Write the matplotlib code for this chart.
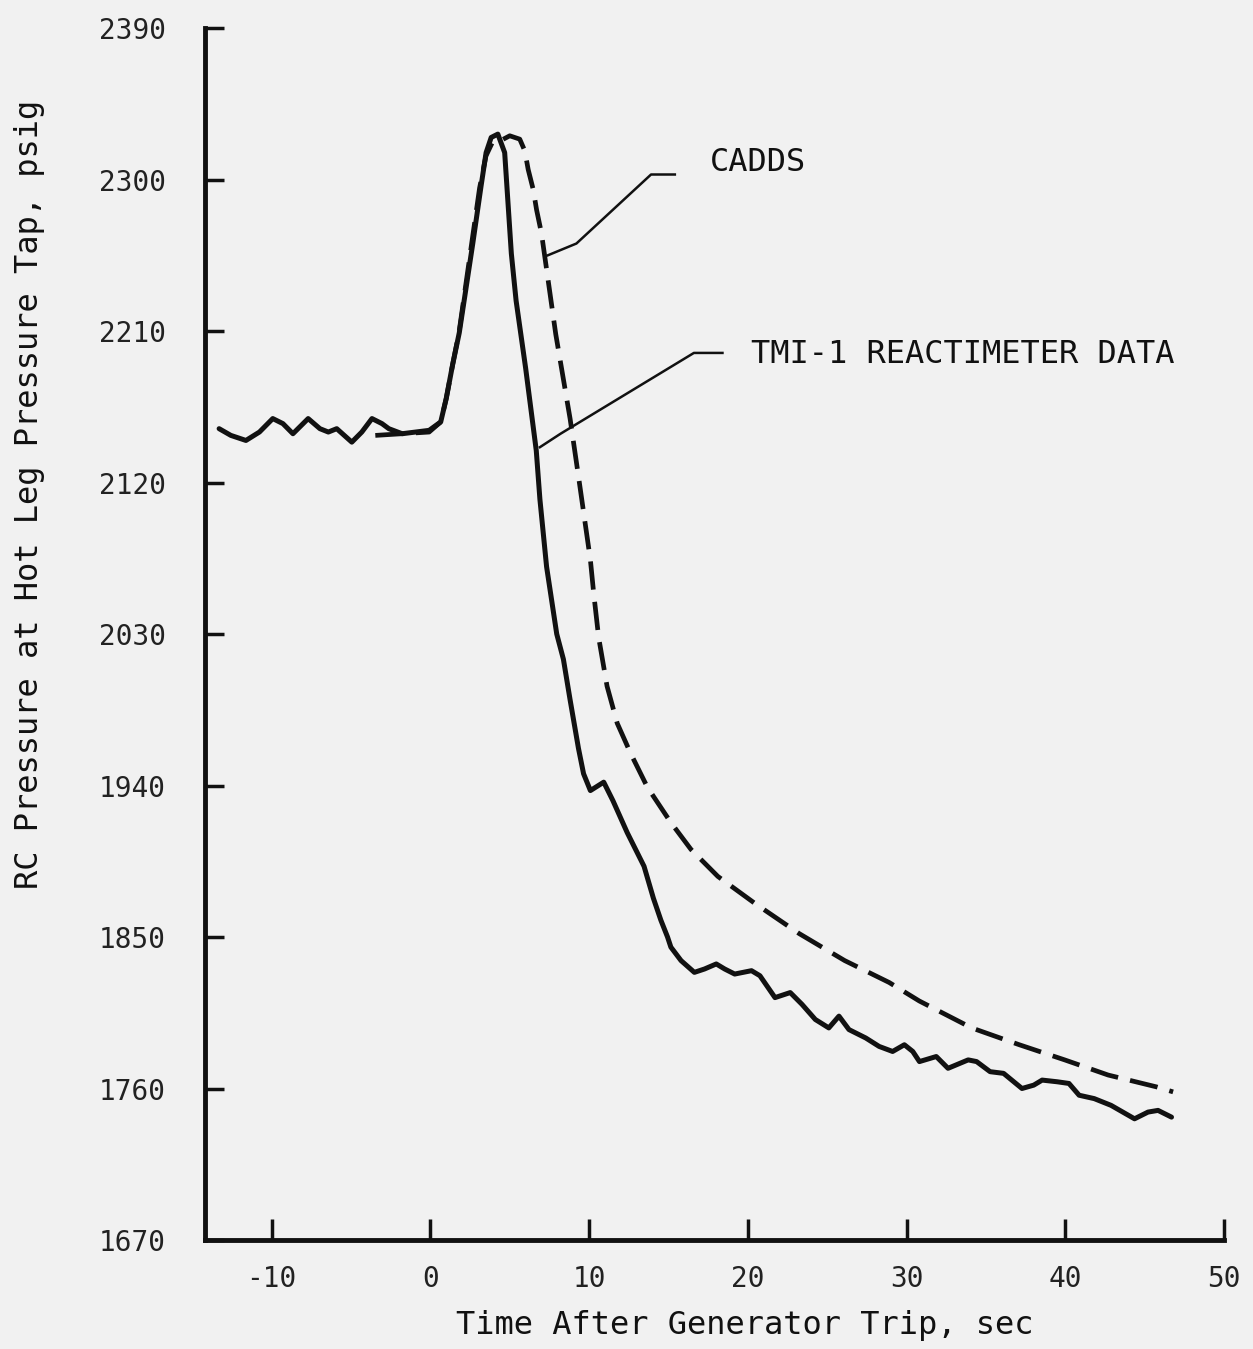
import matplotlib
matplotlib.use("Agg")
import matplotlib.pyplot as plt

# TMI-1 reactimeter data (solid line)
tmi_t = [-13.31, -12.57, -11.62, -10.77, -9.93, -9.29, -8.66, -7.70, -6.96, -6.43, -5.90,
         -4.95, -4.32, -3.68, -3.05, -2.62, -1.78, -0.08, 0.65, 1.0, 1.4, 1.82, 2.67,
         3.19, 3.51, 3.83, 4.25, 4.68, 4.89, 5.10, 5.4, 6.0, 6.67, 6.9, 7.32, 7.96,
         8.38, 8.80, 9.33, 9.65, 10.08, 10.92, 11.50, 12.40, 13.46, 14.05, 14.52, 14.94,
         15.15, 15.79, 16.63, 17.27, 18.01, 18.54, 19.17, 20.23, 20.76, 21.71, 22.67,
         23.41, 24.25, 25.10, 25.74, 26.37, 27.43, 28.27, 29.12, 29.86, 30.39, 30.81,
         31.87, 32.61, 33.88, 34.41, 35.26, 36.11, 37.27, 38.01, 38.54, 39.49, 40.23,
         40.87, 41.82, 42.88, 43.62, 44.36, 45.21, 45.84, 46.69]
tmi_p = [2152, 2148, 2145, 2150, 2158, 2155, 2149, 2158, 2152, 2150, 2152,
         2144, 2150, 2158, 2155, 2152, 2149, 2151, 2156, 2170, 2190, 2209, 2262,
         2296, 2316, 2325, 2327, 2316, 2286, 2256, 2228, 2188, 2139, 2110, 2070, 2030,
         2015, 1991, 1962, 1947, 1937, 1942, 1931, 1912, 1892, 1873, 1860, 1850,
         1844, 1836, 1829, 1831, 1834, 1831, 1828, 1830, 1827, 1814, 1817,
         1810, 1801, 1796, 1803, 1795, 1790, 1785, 1782, 1786, 1782, 1776,
         1779, 1772, 1777, 1776, 1770, 1769, 1760, 1762, 1765, 1764, 1763,
         1756, 1754, 1750, 1746, 1742, 1746, 1747, 1743]

# CADDS prediction (dashed line)
cadds_t = [-3.47, -1.78, -0.08, 0.65, 1.0, 1.4, 1.8, 2.6, 3.1, 3.5, 3.9, 4.4, 5.0, 5.63,
           5.95, 6.16, 6.48, 6.69, 7.0, 7.9, 8.8, 9.4, 10.08, 10.29, 10.6, 11.13, 11.77,
           12.62, 13.67, 15.15, 16.42, 18.11, 20.44, 23.24, 26.1, 28.9, 30.8, 34.1,
           37.1, 39.96, 42.7, 45.73, 46.79]
cadds_p = [2148, 2149, 2150, 2156, 2170, 2190, 2209, 2262, 2295, 2314, 2322, 2323, 2326, 2324,
           2317, 2306, 2294, 2282, 2268, 2208, 2158, 2119, 2074, 2054, 2028, 1999, 1977,
           1959, 1939, 1918, 1902, 1886, 1870, 1852, 1836, 1823, 1812, 1796,
           1786, 1777, 1768, 1761, 1758]

x_ticks = [-10, 0, 10, 20, 30, 40, 50]
y_ticks = [1670, 1760, 1850, 1940, 2030, 2120, 2210, 2300, 2390]

# leader lines pointing from the labels to the curves
cadds_lead_t = [15.4, 13.9, 9.2, 7.4]
cadds_lead_p = [2303, 2303, 2262, 2255]
tmi_lead_t = [18.4, 16.6, 8.2, 6.9]
tmi_lead_p = [2197, 2197, 2149, 2141]

FONT = "DejaVu Sans Mono"
BG = "#f1f1f1"
INK = "#111111"

fig = plt.figure(figsize=(12.53, 13.49), dpi=100, facecolor=BG)
ax = fig.add_axes([0.1636, 0.0808, 0.9769 - 0.1636, 0.9792 - 0.0808])
ax.set_facecolor(BG)

ax.plot(tmi_t, tmi_p, color=INK, lw=3.6, solid_capstyle="round", solid_joinstyle="round")
ax.plot(cadds_t, cadds_p, color=INK, lw=3.4, dashes=(6, 2.6), dash_joinstyle="round")

ax.plot(cadds_lead_t, cadds_lead_p, color=INK, lw=1.8)
ax.plot(tmi_lead_t, tmi_lead_p, color=INK, lw=1.8)
ax.text(17.6, 2310, "CADDS", fontsize=23, family=FONT, color=INK, va="center", ha="left")
ax.text(20.2, 2196, "TMI-1 REACTIMETER DATA", fontsize=23, family=FONT, color=INK,
        va="center", ha="left")

ax.set_xlim(-14.2, 50)
ax.set_ylim(1670, 2390)
ax.set_xticks(x_ticks)
ax.set_yticks(y_ticks)
ax.set_xticklabels([str(v) for v in x_ticks], family=FONT, fontsize=20, color="#222222")
ax.set_yticklabels([str(v) for v in y_ticks], family=FONT, fontsize=20, color="#222222")
ax.tick_params(axis="x", direction="in", length=15, width=2.5, pad=18, color=INK)
ax.tick_params(axis="y", direction="in", length=14, width=2.5, pad=28, color=INK)

for side in ["top", "right"]:
    ax.spines[side].set_visible(False)
for side in ["left", "bottom"]:
    ax.spines[side].set_linewidth(3.5)
    ax.spines[side].set_color(INK)

ax.set_xlabel("Time After Generator Trip, sec", family=FONT, fontsize=23, color=INK)
ax.xaxis.set_label_coords(0.53, -0.058)
ax.set_ylabel("RC Pressure at Hot Leg Pressure Tap, psig", family=FONT, fontsize=23,
              color=INK)
ax.yaxis.set_label_coords(-0.157, 0.615)

fig.savefig("out.png", dpi=100, facecolor=BG)
